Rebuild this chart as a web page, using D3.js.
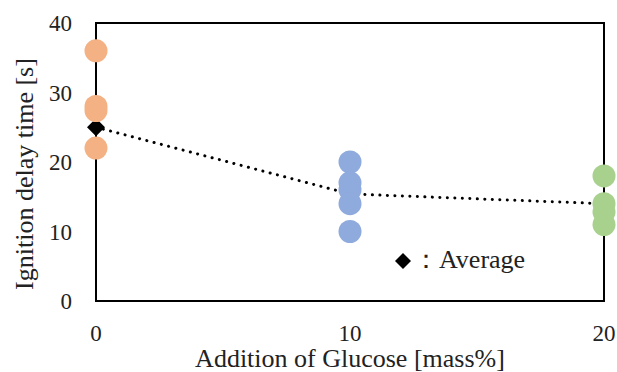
<!DOCTYPE html>
<html>
<head>
<meta charset="utf-8">
<script src="https://cdn.jsdelivr.net/npm/d3@7"></script>
<style>
  body { margin: 0; background: #fff; }
</style>
</head>
<body>
<div id="chart"></div>
<script>
// glucose addition levels and measured ignition delay times
let glucose = [0, 10, 20];
let colors = ["#F4B183", "#8FAADC", "#A9D18E"];
let delay0 = [36, 28, 27.4, 22];
let delay10 = [20, 17, 16, 14, 10];
let delay20 = [18, 14, 12.8, 11];
let averages = [25, 15.4, 14];
let xTicks = [0, 10, 20];
let yTicks = [0, 10, 20, 30, 40];

let font = "Liberation Serif";

let width = 617,
    height = 372,
    margin = { top: 23, right: 13, bottom: 71, left: 96 };

let x = d3.scaleLinear().domain([0, 20]).range([margin.left, width - margin.right]);
let y = d3.scaleLinear().domain([0, 40]).range([height - margin.bottom, margin.top]);

let svg = d3.select("#chart").append("svg")
    .attr("width", width)
    .attr("height", height)
    .style("display", "block");

// frame
svg.append("rect")
    .attr("x", x(0))
    .attr("y", y(40))
    .attr("width", x(20) - x(0))
    .attr("height", y(0) - y(40))
    .attr("fill", "none")
    .attr("stroke", "#000")
    .attr("stroke-width", 2);

// y tick labels
svg.selectAll(".ytick")
    .data(yTicks)
  .enter().append("text")
    .attr("x", 72)
    .attr("y", d => y(d))
    .attr("dy", "0.35em")
    .attr("text-anchor", "end")
    .attr("font-family", font)
    .attr("font-size", 23)
    .attr("fill", "#222")
    .text(d => d);

// x tick labels
svg.selectAll(".xtick")
    .data(xTicks)
  .enter().append("text")
    .attr("x", d => x(d))
    .attr("y", 333)
    .attr("dy", "0.35em")
    .attr("text-anchor", "middle")
    .attr("font-family", font)
    .attr("font-size", 23)
    .attr("fill", "#222")
    .text(d => d);

// axis titles
svg.append("text")
    .attr("x", (x(0) + x(20)) / 2)
    .attr("y", 367)
    .attr("text-anchor", "middle")
    .attr("font-family", font)
    .attr("font-size", 26)
    .attr("fill", "#222")
    .text("Addition of Glucose [mass%]");

svg.append("text")
    .attr("transform", "translate(33," + 174 + ") rotate(-90)")
    .attr("text-anchor", "middle")
    .attr("font-family", font)
    .attr("font-size", 26)
    .attr("fill", "#222")
    .text("Ignition delay time [s]");

// dotted average line
let line = d3.line()
    .x((d, i) => x(glucose[i]))
    .y(d => y(d));

svg.append("path")
    .datum(averages)
    .attr("d", line)
    .attr("fill", "none")
    .attr("stroke", "#000")
    .attr("stroke-width", 3)
    .attr("stroke-linecap", "round")
    .attr("stroke-dasharray", "0.1,7.4");

function diamond(cx, cy, h) {
  return "M" + cx + "," + (cy - h) + "L" + (cx + h) + "," + cy +
         "L" + cx + "," + (cy + h) + "L" + (cx - h) + "," + cy + "Z";
}

svg.selectAll(".avg")
    .data(averages)
  .enter().append("path")
    .attr("d", (d, i) => diamond(x(glucose[i]), y(d), 9))
    .attr("fill", "#000");

// measured points
let groups = [delay0, delay10, delay20];
groups.forEach(function(vals, i) {
  svg.selectAll(".pt" + i)
      .data(vals)
    .enter().append("circle")
      .attr("cx", x(glucose[i]))
      .attr("cy", d => y(d))
      .attr("r", 11.5)
      .attr("fill", colors[i]);
});

// legend
svg.append("path")
    .attr("d", diamond(403, 261, 8))
    .attr("fill", "#000");

svg.append("text")
    .attr("x", 413)
    .attr("y", 268)
    .attr("font-family", font)
    .attr("font-size", 26)
    .attr("fill", "#222")
    .text("\uFF1AAverage");
</script>
</body>
</html>
